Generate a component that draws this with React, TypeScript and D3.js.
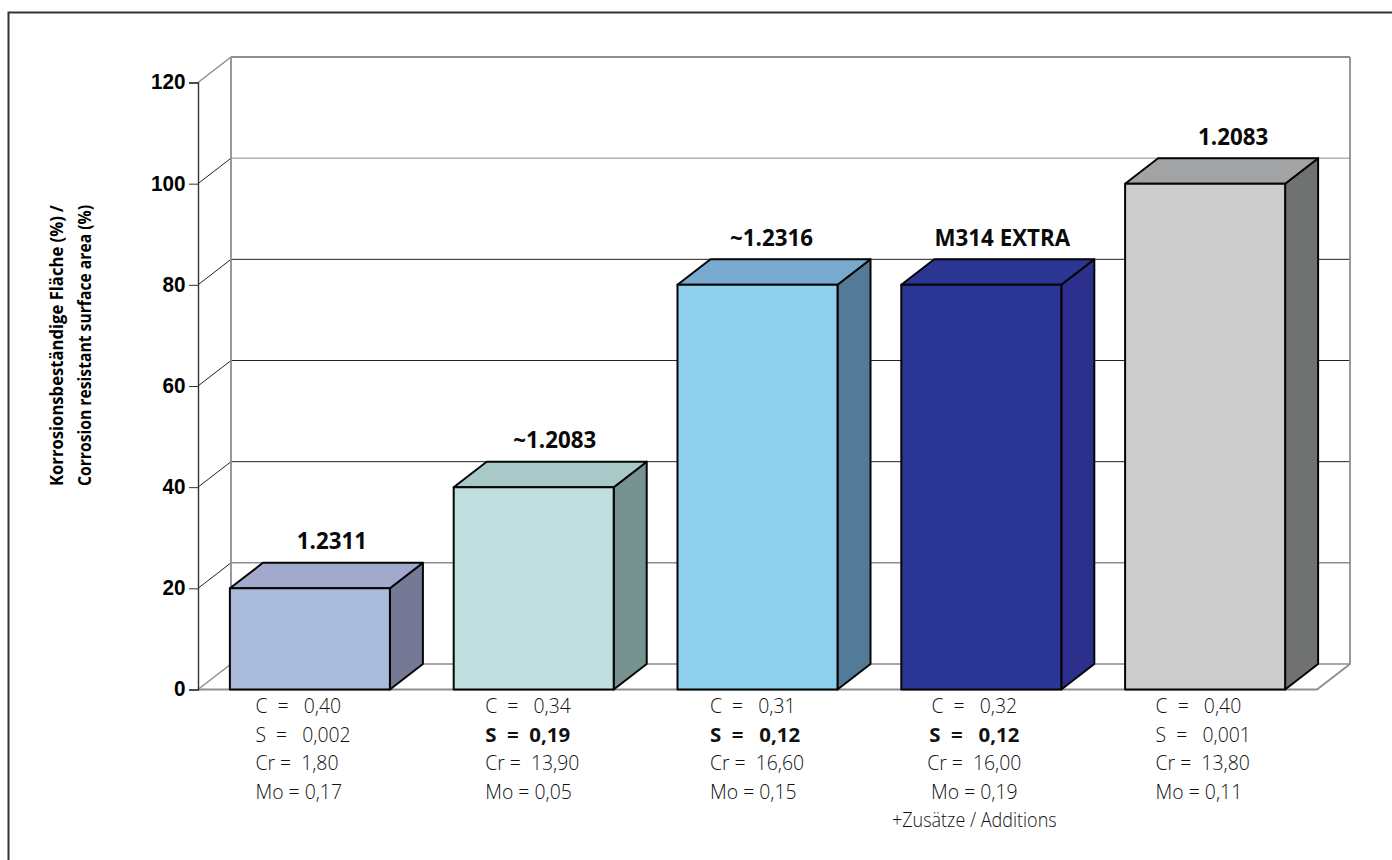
import * as d3 from "d3";
import { useEffect, useRef } from "react";

const grades = ["1.2311", "~1.2083", "~1.2316", "M314 EXTRA", "1.2083"];
const values = [20, 40, 80, 80, 100];
const ticks = [0, 20, 40, 60, 80, 100, 120];

const frontColors = ["#abbbdc", "#bfe0df", "#8fcfee", "#2b3594", "#cdcdcd"];
const topColors = ["#a1a9cc", "#a8c9c8", "#78a9cf", "#2b3594", "#a2a3a5"];
const sideColors = ["#757996", "#769291", "#537a97", "#2c2f8b", "#6f7271"];

// one list of lines per bar, spaces as in the source table
const carbonRows = ["C  =   0,40", "C  =   0,34", "C  =   0,31", "C  =   0,32", "C  =   0,40"];
const sulphurRows = ["S  =   0,002", "S  =  0,19", "S  =   0,12", "S  =   0,12", "S  =   0,001"];
const chromeRows = ["Cr =  1,80", "Cr =  13,90", "Cr =  16,60", "Cr =  16,00", "Cr =  13,80"];
const molyRows = ["Mo = 0,17", "Mo = 0,05", "Mo = 0,15", "Mo = 0,19", "Mo = 0,11"];
const sulphurBold = [false, true, true, true, false];
const extraNote = "+Zusätze / Additions";

const yTitle = ["Korrosionsbeständige Fläche (%) /", "Corrosion resistant surface area (%)"];

const width = 1392;
const height = 860;
const left = 198;
const right = 1317;
const depthX = 33;
const depthY = 25.5;
const labelShift = [22, 21, 14, 21, 28];
const tableShift = [0, 6, 7, 0, 5];

const thinFont = "'Open Sans', 'Noto Sans', sans-serif";
const armFont = "'Liberation Sans', Arial, sans-serif";

export default function App() {
  const ref = useRef<SVGSVGElement>(null);

  useEffect(() => {
    const svg = d3.select(ref.current);
    svg.selectAll("*").remove();

    const x = d3
      .scaleBand<string>()
      .domain(grades)
      .range([left, right])
      .paddingInner(0.285)
      .paddingOuter(0.1425);
    const y = d3.scaleLinear().domain([0, 120]).range([689.5, 82.5]);

    // outer frame, runs off the page on the right and bottom
    svg
      .append("path")
      .attr("d", `M${width},12.5H8.5V${height}`)
      .attr("fill", "none")
      .attr("stroke", "#333")
      .attr("stroke-width", 2);

    // back wall and side wall grid
    const greyTicks = [0, 20, 100, 120];
    ticks.forEach((t) => {
      const c = greyTicks.includes(t) ? "#8e8e8e" : "#222";
      svg
        .append("line")
        .attr("x1", left + depthX)
        .attr("x2", right + depthX)
        .attr("y1", y(t) - depthY)
        .attr("y2", y(t) - depthY)
        .attr("stroke", c)
        .attr("stroke-width", t === 120 ? 2 : t === 0 || t === 20 ? 1.5 : 1);
      svg
        .append("line")
        .attr("x1", left)
        .attr("x2", left + depthX)
        .attr("y1", y(t))
        .attr("y2", y(t) - depthY)
        .attr("stroke", t === 0 || t === 120 ? "#8e8e8e" : "#222")
        .attr("stroke-width", t === 0 || t === 120 ? 1.5 : 1);
    });
    svg
      .append("path")
      .attr(
        "d",
        `M${left + depthX},${y(120) - depthY}V${y(0) - depthY}M${right + depthX},${y(120) - depthY}V${y(0) - depthY}L${right},${y(0)}H${left}`
      )
      .attr("fill", "none")
      .attr("stroke", "#8e8e8e")
      .attr("stroke-width", 1.8);

    // y axis
    const axis = svg
      .append("g")
      .attr("transform", `translate(${left},0)`)
      .call(d3.axisLeft(y).tickValues(ticks).tickSize(9).tickPadding(3).tickFormat(d3.format("d")));
    axis.select(".domain").attr("stroke", "#333").attr("stroke-width", 1.4);
    axis.selectAll(".tick line").attr("stroke", "#333");
    axis
      .selectAll("text")
      .attr("font-family", armFont)
      .attr("font-weight", "bold")
      .attr("font-size", 22)
      .attr("x", -12.5 / 0.94)
      .attr("dy", "0.29em")
      .attr("transform", "scale(0.94,1)")
      .attr("fill", "#000");

    // 3d bars
    grades.forEach((g, i) => {
      const x0 = x(g) ?? 0;
      const x1 = x0 + x.bandwidth();
      const top = y(values[i]);
      const base = y(0);
      const bar = svg.append("g").attr("stroke", "#050505").attr("stroke-width", 2).attr("stroke-linejoin", "round");
      const poly = (pts: [number, number][], fill: string) =>
        bar.append("polygon").attr("points", pts.join(" ")).attr("fill", fill);
      poly(
        [
          [x1, top],
          [x1 + depthX, top - depthY],
          [x1 + depthX, base - depthY],
          [x1, base],
        ],
        sideColors[i]
      );
      poly(
        [
          [x0, top],
          [x0 + depthX, top - depthY],
          [x1 + depthX, top - depthY],
          [x1, top],
        ],
        topColors[i]
      );
      poly(
        [
          [x0, top],
          [x1, top],
          [x1, base],
          [x0, base],
        ],
        frontColors[i]
      );

      svg
        .append("text")
        .attr("transform", `translate(${(x0 + x1) / 2 + labelShift[i]},${top - depthY - 13.5}) scale(0.93,1)`)
        .attr("text-anchor", "middle")
        .attr("font-family", thinFont)
        .attr("font-weight", 700)
        .attr("font-size", 24)
        .attr("fill", "#0a0a0a")
        .text(g);

      // composition table under each bar
      const rows = [carbonRows[i], sulphurRows[i], chromeRows[i], molyRows[i]];
      if (i === 3) rows.push(extraNote);
      const centred = i === 3;
      rows.forEach((r, k) => {
        const tx = centred ? (x0 + x1) / 2 - 7 : x0 + 25.5 + tableShift[i];
        const bold = k === 1 && sulphurBold[i];
        svg
          .append("text")
          .attr("transform", `translate(${tx},${713 + k * 28.5}) scale(${k === 4 ? 0.9 : bold ? 1.02 : 0.97},1)`)
          .attr("text-anchor", centred ? "middle" : "start")
          .attr("font-family", thinFont)
          .attr("font-weight", bold ? 700 : 300)
          .attr("font-size", 20)
          .attr("fill", "#111")
          .style("white-space", "pre")
          .text(r);
      });
    });

    // y axis title, both lines run the same length
    yTitle.forEach((t, i) => {
      svg
        .append("text")
        .attr("transform", `translate(${63 + i * 28},486) rotate(-90)`)
        .attr("font-family", thinFont)
        .attr("font-weight", 700)
        .attr("font-size", 17.5)
        .attr("textLength", 281)
        .attr("lengthAdjust", "spacingAndGlyphs")
        .attr("fill", "#000")
        .text(t);
    });
  }, []);

  return (
    <svg
      ref={ref}
      width={width}
      height={height}
      style={{ position: "absolute", left: 0, top: 0, background: "#fff" }}
    />
  );
}
